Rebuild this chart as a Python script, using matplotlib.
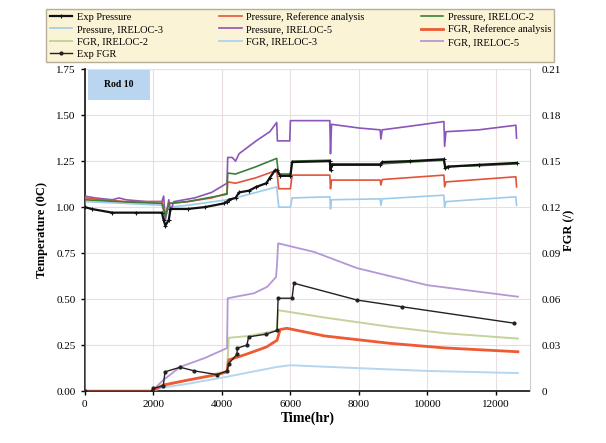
import numpy as np
import matplotlib.pyplot as plt
from matplotlib.patches import Rectangle

plt.rcParams['font.family'] = ['Liberation Serif', 'DejaVu Serif']

# ---- 压力曲线 (左轴) ----
t_exp_p = [0, 200, 800, 1500, 2250, 2300, 2350, 2450, 2500, 3000, 3500, 4050, 4150, 4200,
           4400, 4500, 4800, 5000, 5300, 5400, 5550, 5620, 5700, 6000, 6050, 7150, 7170,
           7200, 8620, 8680, 9500, 10480, 10520, 10600, 11500, 12600]
exp_p = [1.00, 0.99, 0.97, 0.97, 0.97, 0.93, 0.90, 0.93, 0.99, 0.99, 1.00, 1.02, 1.03, 1.04,
         1.05, 1.08, 1.09, 1.11, 1.13, 1.16, 1.20, 1.20, 1.17, 1.17, 1.245, 1.25, 1.20,
         1.23, 1.23, 1.245, 1.25, 1.26, 1.21, 1.22, 1.23, 1.24]

t_p_ref = [0, 0, 500, 1200, 2250, 2350, 2450, 3000, 3700, 4150, 4170, 4400, 5000, 5600,
           5660, 6000, 6050, 7150, 7170, 7200, 8620, 8640, 8680, 10480, 10500, 10540, 12580, 12600]
p_ref = [0, 1.05, 1.04, 1.03, 1.03, 0.96, 1.02, 1.03, 1.05, 1.075, 1.137, 1.13, 1.16, 1.20,
         1.10, 1.10, 1.174, 1.174, 1.10, 1.147, 1.147, 1.12, 1.15, 1.174, 1.11, 1.137, 1.165, 1.11]

t_p_2 = [0, 1000, 2250, 2350, 2450, 3000, 4150, 4170, 4400, 5000, 5600, 5650, 6000, 6050,
         7150, 7170, 7200, 8640, 9500, 10480, 10520, 11500, 12600]
p_2 = [1.04, 1.03, 1.02, 0.95, 1.02, 1.03, 1.07, 1.185, 1.18, 1.22, 1.265, 1.18, 1.18, 1.25,
       1.255, 1.20, 1.235, 1.235, 1.245, 1.255, 1.22, 1.225, 1.235]

t_p_3 = [0, 1200, 2250, 2350, 2450, 3000, 4150, 4400, 5000, 5600, 5660, 6000, 6050, 7150,
         7170, 7200, 8620, 8640, 8680, 10480, 10500, 10540, 12580, 12600]
p_3 = [1.03, 1.02, 1.01, 0.94, 1.00, 1.01, 1.04, 1.05, 1.08, 1.11, 1.00, 1.00, 1.05, 1.056,
       0.99, 1.04, 1.045, 1.01, 1.045, 1.065, 1.00, 1.03, 1.056, 1.01]

t_p_5 = [0, 0, 300, 800, 1000, 1200, 1800, 2250, 2300, 2350, 2450, 2500, 2600, 3200, 3700,
         4150, 4170, 4300, 4400, 4500, 5000, 5400, 5600, 5620, 5980, 6000, 7150, 7170, 7200,
         8000, 8620, 8640, 8680, 9500, 10480, 10500, 10540, 11500, 12580, 12600]
p_5 = [0, 1.06, 1.05, 1.04, 1.05, 1.04, 1.03, 1.03, 1.06, 0.93, 1.04, 0.98, 1.03, 1.05, 1.08,
       1.13, 1.27, 1.27, 1.25, 1.29, 1.36, 1.41, 1.46, 1.36, 1.36, 1.47, 1.47, 1.29, 1.45,
       1.43, 1.42, 1.37, 1.42, 1.44, 1.465, 1.33, 1.41, 1.42, 1.445, 1.375]

# ---- FGR 曲线 (右轴) ----
t_f_ref = [0, 1950, 2290, 3000, 3860, 4150, 4200, 4700, 5300, 5610, 5700, 5900, 7000, 8900, 10500, 12640]
f_ref = [0, 0, 0.004, 0.0072, 0.0108, 0.0126, 0.0204, 0.024, 0.0288, 0.0332, 0.0402, 0.041,
         0.036, 0.0312, 0.0282, 0.0257]

t_f_2 = [0, 1950, 2290, 3500, 4150, 4200, 4800, 5610, 5640, 7000, 8900, 10500, 12640]
f_2 = [0, 0, 0.0036, 0.0096, 0.0132, 0.0348, 0.036, 0.0396, 0.0528, 0.048, 0.042, 0.0378, 0.0343]

t_f_3 = [0, 1950, 2290, 3000, 4150, 4730, 5610, 6000, 8000, 10000, 12640]
f_3 = [0, 0, 0.0024, 0.0048, 0.0094, 0.012, 0.0158, 0.0169, 0.015, 0.0132, 0.0118]

t_f_5 = [0, 1950, 2290, 2780, 3500, 4150, 4170, 4930, 5320, 5580, 5610, 5640, 6690, 7950, 10000, 12640]
f_5 = [0, 0, 0.0072, 0.0158, 0.0216, 0.0281, 0.0606, 0.0638, 0.068, 0.0744, 0.083, 0.0964,
       0.0908, 0.0802, 0.0691, 0.0616]

t_exp_f = [0, 1950, 2000, 2290, 2340, 2780, 3200, 3860, 4150, 4200, 4440, 4450, 4730, 4780,
           5300, 5610, 5640, 6050, 6100, 7950, 9270, 12540]
exp_f = [0, 0, 0.0018, 0.0036, 0.0126, 0.0156, 0.0132, 0.0108, 0.0132, 0.018, 0.024, 0.0281,
         0.03, 0.0354, 0.0372, 0.0396, 0.0606, 0.0606, 0.0704, 0.0594, 0.055, 0.0443]

left_ticks = [0.00, 0.25, 0.50, 0.75, 1.00, 1.25, 1.50, 1.75]
right_ticks = [0, 0.03, 0.06, 0.09, 0.12, 0.15, 0.18, 0.21]
right_labels = ['0', '0.03', '0.06', '0.09', '0.12', '0.15', '0.18', '0.21']
x_ticks = [0, 2000, 4000, 6000, 8000, 10000, 12000]

fig = plt.figure(figsize=(6.06, 4.43), dpi=100)
ax = fig.add_axes([0.140, 0.117, 0.735, 0.727])
ax2 = ax.twinx()

ax.set_xlim(0, 13000)
ax.set_ylim(0, 1.75)
ax2.set_ylim(0, 0.21)

ax.set_xticks(x_ticks)
ax.set_yticks(left_ticks)
ax.set_yticklabels([f'{v:.2f}' for v in left_ticks])
ax2.set_yticks(right_ticks)
ax2.set_yticklabels(right_labels)
ax.grid(True, color='#e8dede', linewidth=0.8)
ax.set_axisbelow(True)

h = {}
h['ep'], = ax.plot(t_exp_p, exp_p, color='#111111', lw=1.6, marker='+', ms=3, mew=0.8, zorder=6)
h['pref'], = ax.plot(t_p_ref, p_ref, color='#e2543a', lw=1.2, zorder=4)
h['p2'], = ax.plot(t_p_2, p_2, color='#3f7d3a', lw=1.2, zorder=5)
h['p3'], = ax.plot(t_p_3, p_3, color='#9fcbea', lw=1.2, zorder=3)
h['p5'], = ax.plot(t_p_5, p_5, color='#8b56b8', lw=1.2, zorder=3)

h['fref'], = ax2.plot(t_f_ref, f_ref, color='#ee5a33', lw=2.0, zorder=4)
h['f2'], = ax2.plot(t_f_2, f_2, color='#c4d39c', lw=1.4, zorder=3)
h['f3'], = ax2.plot(t_f_3, f_3, color='#b5d6f0', lw=1.4, zorder=3)
h['f5'], = ax2.plot(t_f_5, f_5, color='#b597d6', lw=1.3, zorder=3)
h['ef'], = ax2.plot(t_exp_f, exp_f, color='#222222', lw=1.0, marker='.', ms=4, zorder=6)

labels = {
    'ep': 'Exp Pressure', 'pref': 'Pressure, Reference analysis', 'p2': 'Pressure, IRELOC-2',
    'p3': 'Pressure, IRELOC-3', 'p5': 'Pressure, IRELOC-5', 'fref': 'FGR, Reference analysis',
    'f2': 'FGR, IRELOC-2', 'f3': 'FGR, IRELOC-3', 'f5': 'FGR, IRELOC-5', 'ef': 'Exp FGR',
}
# 按行排列: matplotlib 按列填充, 所以重新排序
order = ['ep', 'p3', 'f2', 'ef', 'pref', 'p5', 'f3', 'p2', 'fref', 'f5']
leg = fig.legend([h[k] for k in order], [labels[k] for k in order], ncol=3,
                 loc='upper left', bbox_to_anchor=(0.068, 0.862, 0.855, 0.13), mode='expand',
                 fontsize=7.5, frameon=True, fancybox=False, handlelength=2.2,
                 handletextpad=0.4, labelspacing=0.3, borderpad=0.3, columnspacing=1.0)
leg.get_frame().set_facecolor('#fbf3d6')
leg.get_frame().set_edgecolor('#b5ae98')
leg.get_frame().set_alpha(1)

# Rod 10 标签框
ax.add_patch(Rectangle((0.007, 0.905), 0.139, 0.092, transform=ax.transAxes,
                       facecolor='#bad5ef', edgecolor='none', zorder=7))
ax.text(0.076, 0.951, 'Rod 10', transform=ax.transAxes, fontsize=7, fontweight='bold',
        va='center', ha='center', zorder=8)

for s in ['left', 'bottom']:
    ax.spines[s].set_linewidth(1.3)
    ax.spines[s].set_color('#222222')
ax.spines['top'].set_visible(False)
ax2.spines['top'].set_visible(False)
ax2.spines['left'].set_visible(False)
ax2.spines['bottom'].set_visible(False)
ax2.spines['right'].set_color('#cccccc')
ax.spines['right'].set_visible(False)

ax.tick_params(labelsize=8, width=1.0, length=3)
ax2.tick_params(labelsize=8, length=0, pad=8)

ax.set_xlabel('Time(hr)', fontsize=10, fontweight='bold', labelpad=2)
ax.set_ylabel('Temperature (0C)', fontsize=9, fontweight='bold', labelpad=6)
ax2.set_ylabel('FGR (/)', fontsize=9, fontweight='bold', labelpad=2)

fig.savefig('out.png', dpi=100)
